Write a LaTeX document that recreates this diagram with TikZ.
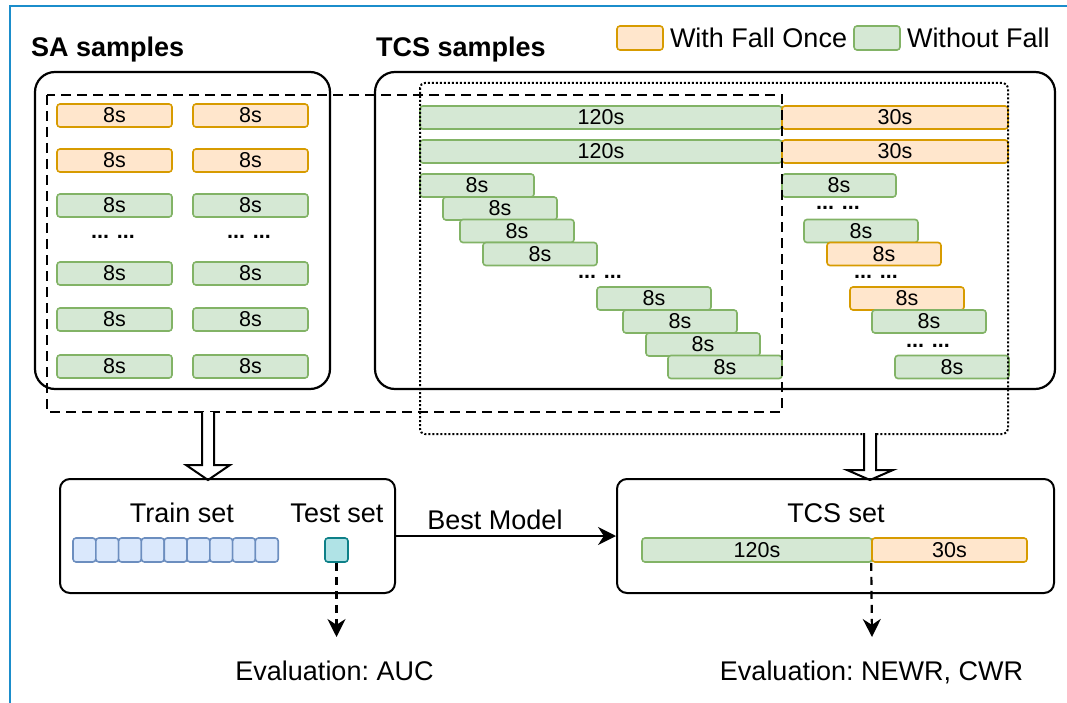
\documentclass[tikz,border=0pt]{standalone}
\usepackage{fontspec}
\setmainfont{Liberation Sans}
\usetikzlibrary{arrows.meta}
\definecolor{fallfill}{HTML}{FFE6CC}
\definecolor{fallline}{HTML}{D79B00}
\definecolor{okfill}{HTML}{D5E8D4}
\definecolor{okline}{HTML}{82B366}
\definecolor{trainfill}{HTML}{DAE8FC}
\definecolor{trainline}{HTML}{6C8EBF}
\definecolor{testfill}{HTML}{B0E3E6}
\definecolor{testline}{HTML}{0E8088}
\definecolor{frameblue}{HTML}{1B8DCB}
\newcommand\segfont{\fontsize{21.5}{24}\selectfont}
\newcommand\txtfont{\fontsize{27}{31}\selectfont\frenchspacing}

\begin{document}
\begin{tikzpicture}[x=1pt, y=-1pt,
  seg/.style={rounded corners=3pt, line width=1.6pt, minimum height=23pt, inner sep=0pt, font=\segfont},
  fall/.style={seg, draw=fallline, fill=fallfill},
  nofall/.style={seg, draw=okline, fill=okfill},
  sabox/.style={nofall, minimum width=115pt},
  safall/.style={fall, minimum width=115pt},
  stair/.style={nofall, minimum width=114pt},
  stairfall/.style={fall, minimum width=114pt},
  dots/.style={font=\segfont\bfseries, inner sep=0pt},
  panel/.style={draw, line width=2.2pt, rounded corners=20pt},
  setbox/.style={draw, line width=2pt, rounded corners=10pt, minimum height=114pt},
  txt/.style={font=\txtfont, inner sep=0pt},
  hollow/.style={draw, line width=2pt, fill=white, line join=miter},
  evalarrow/.style={-{Stealth[length=18pt, width=18pt]}, line width=2.2pt, dash pattern=on 8pt off 6pt}]
\useasboundingbox (0,0) rectangle (1067,703);
\draw[frameblue, line width=2.2pt] (10,703) -- (10,6) -- (1067,6);

% titles and legend
\node[txt, font=\txtfont\bfseries, anchor=base west] (satitle) at (31,57) {SA samples};
\node[txt, font=\txtfont\bfseries, anchor=base west] (tcstitle) at (376,57) {TCS samples};
\node[fall, minimum width=46pt, minimum height=24pt] (legfall) at (640,38) {};
\node[txt, anchor=west, inner sep=6pt] (legfalltxt) at (legfall.east) {With Fall Once};
\node[nofall, minimum width=46pt, minimum height=24pt] (legok) at (877,38) {};
\node[txt, anchor=west, inner sep=6pt] (legoktxt) at (legok.east) {Without Fall};

% sample panels
\draw[panel] (35,72) rectangle (330,389);
\draw[panel] (375,72) rectangle (1055,389);

% SA samples
\node[safall] (sa11) at (114.5,115.5) {8s};
\node[safall] (sa12) at (250.5,115.5) {8s};
\node[safall] (sa21) at (114.5,160.5) {8s};
\node[safall] (sa22) at (250.5,160.5) {8s};
\node[sabox] (sa31) at (114.5,205.5) {8s};
\node[sabox] (sa32) at (250.5,205.5) {8s};
\node[dots] (sadots1) at (113,237) {... ...};
\node[dots] (sadots2) at (249,237) {... ...};
\node[sabox] (sa41) at (114.5,273.5) {8s};
\node[sabox] (sa42) at (250.5,273.5) {8s};
\node[sabox] (sa51) at (114.5,319.5) {8s};
\node[sabox] (sa52) at (250.5,319.5) {8s};
\node[sabox] (sa61) at (114.5,366.5) {8s};
\node[sabox] (sa62) at (250.5,366.5) {8s};

% TCS samples
\node[nofall, minimum width=362pt] (long1) at (601,117.5) {120s};
\node[fall, minimum width=226pt] (fall1) at (895,117.5) {30s};
\node[nofall, minimum width=362pt] (long2) at (601,151.5) {120s};
\node[fall, minimum width=226pt] (fall2) at (895,151.5) {30s};
\node[stair] (st1) at (477,185.5) {8s};
\node[stair] (st2) at (500,208.5) {8s};
\node[stair] (st3) at (517,231) {8s};
\node[stair] (st4) at (540,254) {8s};
\node[dots] (stdots) at (600,277) {... ...};
\node[stair] (st5) at (654,298.5) {8s};
\node[stair] (st6) at (680,321.5) {8s};
\node[stair] (st7) at (703,344.5) {8s};
\node[stair] (st8) at (725,367) {8s};
\node[stair] (rt1) at (839,185.5) {8s};
\node[dots] (rtdots1) at (838,208) {... ...};
\node[stair] (rt2) at (861,231) {8s};
\node[stairfall] (rt3) at (884,254) {8s};
\node[dots] (rtdots2) at (876,277) {... ...};
\node[stairfall] (rt4) at (907,298.5) {8s};
\node[stair] (rt5) at (929,321.5) {8s};
\node[dots] (rtdots3) at (928,346) {... ...};
\node[stair] (rt6) at (952,367) {8s};

% selections
\draw[line width=2.4pt, dash pattern=on 10pt off 6pt] (47,95) rectangle (782,412);
\draw[line width=2pt, dash pattern=on 2pt off 2pt, rounded corners=5pt] (420,83) rectangle (1008,434);

% hollow arrows
\draw[hollow] (202,412) -- (202,465) -- (186,465) -- (208,480) -- (230,465) -- (214,465) -- (214,412);
\draw[hollow] (864,433) -- (864,470) -- (847,470) -- (870,480) -- (893,470) -- (876,470) -- (876,433);

% train / test
\node[setbox, minimum width=335pt] (train) at (227.5,536) {};
\node[txt, anchor=base] (traintxt) at (182,522) {Train set};
\node[txt, anchor=base] (testtxt) at (337,522) {Test set};
\foreach \i in {0,...,8}
  \node[seg, draw=trainline, fill=trainfill, minimum width=22.8pt, minimum height=24pt] (tr\i) at (84.4+22.8*\i,550) {};
\node[seg, draw=testline, fill=testfill, minimum width=23pt, minimum height=24pt] (test) at (336.5,550) {};

% TCS set
\node[setbox, minimum width=437pt] (tcsset) at (835.5,536) {};
\node[txt, anchor=base] (tcssettxt) at (836,522) {TCS set};
\node[nofall, minimum width=230pt, minimum height=24pt] (set120) at (757,550) {120s};
\node[fall, minimum width=155pt, minimum height=24pt] (set30) at (949.5,550) {30s};

\draw[-{Stealth[length=18pt, width=18pt]}, line width=2pt] (train) -- node[pos=0.45, above, txt, inner sep=5pt] {Best Model} (tcsset);

% evaluation
\coordinate (aucend) at (336.5,637);
\coordinate (newrend) at (872,637);
\draw[evalarrow] (test.south) -- (aucend);
\draw[evalarrow] (set30.south west) -- (newrend);
\node[txt, anchor=base] (auc) at (334.5,680) {Evaluation: AUC};
\node[txt, anchor=base] (newr) at (871.5,680) {Evaluation: NEWR, CWR};
\end{tikzpicture}
\end{document}
